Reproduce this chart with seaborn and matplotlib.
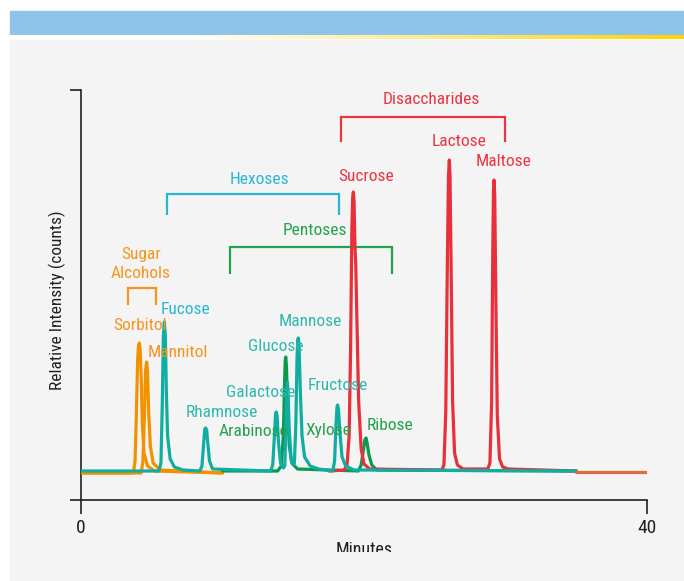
import numpy as np
import pandas as pd
import seaborn as sns
import matplotlib.pyplot as plt
from matplotlib.patches import Rectangle
from matplotlib.colors import LinearSegmentedColormap
from matplotlib.transforms import Bbox, TransformedBbox

# chromatogram traces: time (min), intensity above baseline
sorbitol_t = [0, 3.7, 3.82, 3.92, 4.0, 4.06, 4.12, 4.18, 4.25, 4.33, 4.45, 4.7, 5.2, 10]
sorbitol_y = [-2, -2, 10, 60, 110, 125, 128, 122, 95, 50, 18, 5, 0, -2]
mannitol_t = [0, 4.25, 4.38, 4.48, 4.56, 4.64, 4.70, 4.78, 4.9, 5.1, 5.6, 10]
mannitol_y = [-2, -2, 10, 55, 100, 109, 100, 60, 25, 8, 1, -2]

hexose_t = [0, 5.5, 5.65, 5.75, 5.82, 5.89, 5.96, 6.03, 6.12, 6.3, 6.6, 7.2,
            8.4, 8.55, 8.67, 8.75, 8.81, 8.88, 8.96, 9.08, 9.3,
            13.4, 13.55, 13.67, 13.75, 13.8, 13.86, 13.95, 14.1, 14.3,
            14.4, 14.48, 14.54, 14.58, 14.63, 14.72, 14.85, 15.0,
            15.08, 15.18, 15.27, 15.32, 15.36, 15.41, 15.5, 15.62, 15.8, 16.2, 16.8,
            17.8, 17.92, 18.02, 18.09, 18.14, 18.2, 18.3, 18.45, 18.7, 19.3, 35]
hexose_y = [0, 0, 8, 70, 135, 149, 135, 80, 35, 12, 4, 1,
            0, 5, 28, 42, 43, 41, 28, 10, 2,
            0, 6, 35, 57, 59, 55, 30, 8, 3,
            5, 40, 82, 89, 80, 40, 12, 6,
            8, 45, 115, 131, 133, 125, 80, 35, 14, 5, 2,
            0, 10, 45, 64, 66, 61, 38, 14, 5, 1, 0]

pentose_t = [10, 13.9, 14.15, 14.3, 14.38, 14.43, 14.47, 14.52, 14.6, 14.72, 14.9, 15.3,
             19.6, 19.8, 19.95, 20.06, 20.14, 20.22, 20.35, 20.55, 20.9, 35]
pentose_y = [0, 0, 5, 35, 85, 110, 114, 105, 65, 25, 8, 2,
             0, 6, 20, 31, 33, 28, 16, 6, 1, 0]

disacch_t = [17.5, 18.6, 18.8, 18.95, 19.05, 19.14, 19.2, 19.25, 19.3, 19.36, 19.42, 19.5,
             19.62, 19.8, 20.0, 20.4,
             25.5, 25.65, 25.78, 25.9, 25.97, 26.03, 26.08, 26.16, 26.26, 26.4, 26.6, 27.0,
             28.75, 28.9, 29.02, 29.1, 29.15, 29.19, 29.24, 29.32, 29.42, 29.58, 29.8, 30.2, 35]
disacch_y = [0, 1, 6, 35, 120, 240, 274, 279, 268, 225, 205, 150,
             70, 22, 7, 2,
             1, 6, 60, 220, 295, 311, 295, 200, 70, 18, 6, 2,
             2, 8, 70, 220, 280, 291, 275, 170, 55, 12, 4, 2, 0]

wash_t = [35, 40]
wash_y = [-1, -1]

trace_names = ["Sorbitol", "Mannitol", "Pentoses", "Disaccharides", "Hexoses", "Wash"]
trace_colors = ["#f39200", "#f39200", "#0a9a4e", "#e8303a", "#0fada2", "#e06c3c"]

# group brackets: left/right time, top / leg bottom intensity, label position
groups = ["Disaccharides", "Hexoses", "Pentoses", "Sugar\nAlcohols"]
group_left = [18.35, 6.10, 10.53, 3.34]
group_right = [29.94, 18.25, 21.96, 5.28]
group_top = [353.7, 277, 224.3, 183.3]
group_bottom = [329.3, 256, 197, 166]
group_label_x = [24.73, 12.63, 16.54, 4.24]
group_label_y = [371, 291.7, 240.3, 207]
group_colors = ["#ec3440", "#29b5d3", "#21a24b", "#f7941d"]

peak_labels = ["Lactose", "Maltose", "Sucrose", "Fucose", "Sorbitol", "Mannitol",
               "Mannose", "Glucose", "Galactose", "Fructose", "Rhamnose",
               "Arabinose", "Xylose", "Ribose"]
peak_label_x = [26.70, 29.89, 20.12, 7.35, 4.19, 6.86,
                16.20, 13.80, 12.71, 18.13, 9.94,
                12.18, 17.48, 21.82]
peak_label_y = [329, 310, 294.3, 162, 145.3, 118.7,
                149.3, 124.3, 78.3, 85.3, 58.3,
                40, 40, 45.3]
peak_label_colors = ["#ec3440", "#ec3440", "#ec3440", "#29b5d3", "#f7941d", "#f7941d",
                     "#30b8ae", "#30b8ae", "#30b8ae", "#30b8ae", "#30b8ae",
                     "#21a24b", "#21a24b", "#21a24b"]

frames = []
for name, t, y in [("Sorbitol", sorbitol_t, sorbitol_y),
                   ("Mannitol", mannitol_t, mannitol_y),
                   ("Pentoses", pentose_t, pentose_y),
                   ("Disaccharides", disacch_t, disacch_y),
                   ("Hexoses", hexose_t, hexose_y),
                   ("Wash", wash_t, wash_y)]:
    frames.append(pd.DataFrame({"time": t, "intensity": y, "trace": name}))
df = pd.concat(frames, ignore_index=True)

sns.set_style("white")
plt.rcParams['font.family'] = ['Roboto Condensed', 'Roboto', 'DejaVu Sans']

W, H = 684, 581
fig = plt.figure(figsize=(W / 100, H / 100), dpi=100, facecolor="white")

# background panel and banner
fig.patches.append(Rectangle((10 / W, 0), 674 / W, 1 - 39.5 / H, color="#f4f4f4",
                             transform=fig.transFigure, figure=fig, zorder=-2))
fig.patches.append(Rectangle((10 / W, 1 - 34.5 / H), 674 / W, 23.5 / H, color="#8fc4ea",
                             transform=fig.transFigure, figure=fig, zorder=-2))
grad = LinearSegmentedColormap.from_list(
    "stripe", [(0, "#ffffff"), (0.245, "#ffffff"), (0.63, "#ffe98a"), (1, "#ffd300")])
gax = fig.add_axes([10 / W, 1 - 39.5 / H, 674 / W, 5 / H])
gax.imshow(np.linspace(0, 1, 512)[None, :], aspect="auto", cmap=grad)
gax.axis("off")

ax = fig.add_axes([81 / W, 1 - 500 / H, 566 / W, 410 / H])
ax.set_facecolor("none")

sns.lineplot(data=df, x="time", y="intensity", hue="trace", hue_order=trace_names,
             palette=dict(zip(trace_names, trace_colors)), sort=False, estimator=None,
             linewidth=2.3, legend=False, ax=ax, zorder=3)

for g, l, r, top, bot, lx, ly, c in zip(groups, group_left, group_right, group_top,
                                         group_bottom, group_label_x, group_label_y, group_colors):
    ax.plot([l, l, r, r], [bot, top, top, bot], color=c, lw=1.6, zorder=2,
            solid_joinstyle="miter", solid_capstyle="butt")
    ax.text(lx, ly, g, color=c, fontsize=12.5, ha="center", va="center",
            linespacing=1.3, zorder=2)

for lab, x, y, c in zip(peak_labels, peak_label_x, peak_label_y, peak_label_colors):
    ax.text(x, y, lab, color=c, fontsize=12.5, ha="center", va="center", zorder=4)

ax.set_xlim(0, 40)
ax.set_ylim(-29, 381)
sns.despine(ax=ax)
for s in ["left", "bottom"]:
    ax.spines[s].set_color("#231f20")
    ax.spines[s].set_linewidth(1.2)
ax.set_xticks([0, 40])
ax.set_xticklabels(["0", "40"])
ax.set_yticks([-29, 381])
ax.set_yticklabels([])
ax.tick_params(axis="x", bottom=True, direction="out", length=10, width=1.2,
               color="#231f20", labelsize=14, labelcolor="#231f20", pad=4)
ax.tick_params(axis="y", left=True, direction="out", length=8, width=1.2, color="#231f20")
ax.set_xlabel("")
ax.set_ylabel("")

fig.text(57 / W, 1 - 300 / H, "Relative Intensity (counts)", rotation=90,
         ha="center", va="center", fontsize=12.5, color="#231f20")
mt = fig.text(364 / W, 1 - 550 / H, "Minutes", ha="center", va="center",
              fontsize=13, color="#231f20")
mt.set_clip_box(TransformedBbox(Bbox([[0, 1 - 552 / H], [1, 1]]), fig.transFigure))
mt.set_clip_on(True)

fig.savefig("out.png", dpi=100, facecolor="white")
